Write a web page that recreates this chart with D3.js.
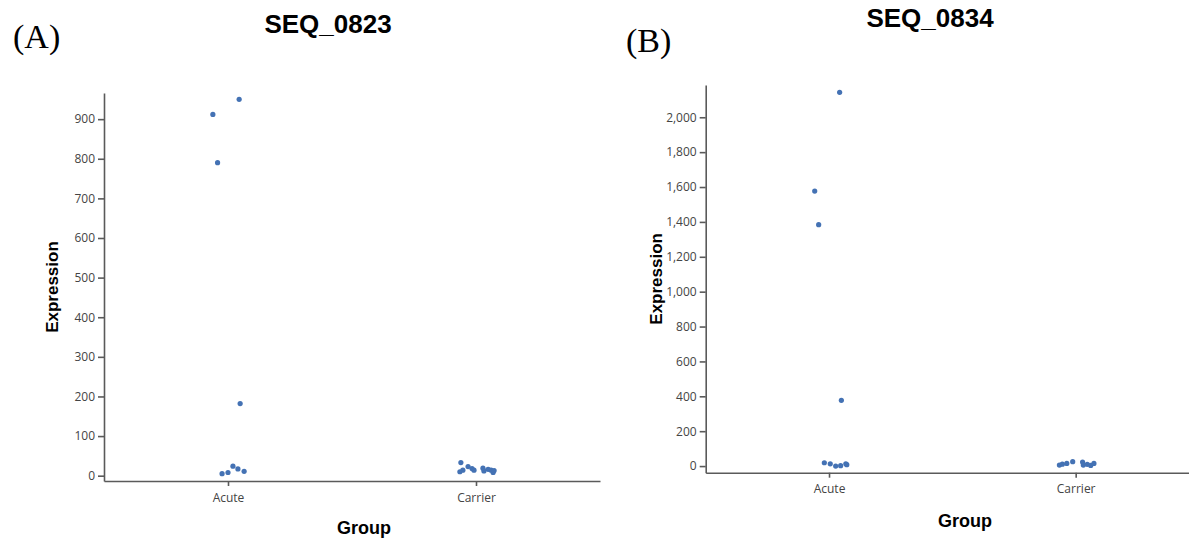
<!DOCTYPE html>
<meta charset="utf-8">
<script src="https://d3js.org/d3.v7.min.js"></script>
<style>
  body { margin: 0; background: #fff; }
  .tick text { font-family: "Open Sans", sans-serif; font-size: 12px; fill: #444; }
  .domain, .tick line { stroke: #5a5a5a; }
</style>
<div id="chart"></div>
<script>

// categories and labels
const groups = ["Acute", "Carrier"];
const titles = ["SEQ_0823", "SEQ_0834"];
const panelTags = ["(A)", "(B)"];

// y tick labels
const ticks0823 = [0, 100, 200, 300, 400, 500, 600, 700, 800, 900];
const ticks0834 = [0, 200, 400, 600, 800, 1000, 1200, 1400, 1600, 1800, 2000];

// expression values, jitter is an offset as a fraction of the category step
const seq0823Acute = [950, 912, 790, 182, 5, 8, 24, 17, 11];
const seq0823AcuteJitter = [0.045, -0.061, -0.042, 0.049, -0.024, 0, 0.02, 0.04, 0.065];
const seq0823Carrier = [33, 10, 14, 23, 18, 14, 19, 12, 16, 14, 8, 13];
const seq0823CarrierJitter = [-0.061, -0.065, -0.053, -0.032, -0.016, -0.008, 0.028, 0.032, 0.049, 0.061, 0.069, 0.073];

const seq0834Acute = [2143, 1577, 1384, 377, 19, 13, 0, 2, 13, 8];
const seq0834AcuteJitter = [0.043, -0.058, -0.042, 0.05, -0.019, 0.005, 0.027, 0.047, 0.068, 0.072];
const seq0834Carrier = [6, 11, 15, 25, 23, 6, 10, 4, 15];
const seq0834CarrierJitter = [-0.066, -0.054, -0.036, -0.012, 0.028, 0.031, 0.047, 0.061, 0.074];

const width = 1189, height = 540;
const dotColor = "#4472b4";

const svg = d3.select("#chart")
  .append("svg")
    .attr("width", width)
    .attr("height", height);

svg.append("rect").attr("width", width).attr("height", height).attr("fill", "#fff");

// panel layouts
const panels = [
  {
    title: titles[0], tag: panelTags[0], ticks: ticks0823, fmt: d3.format("d"),
    left: 104, right: 600, top: 93, bottom: 481, domain: [-13.4, 966],
    series: [[seq0823Acute, seq0823AcuteJitter], [seq0823Carrier, seq0823CarrierJitter]],
    titleX: 328, titleY: 33, tagX: 13, tagY: 48,
    ylabX: 58, groupX: 364, groupY: 534
  },
  {
    title: titles[1], tag: panelTags[1], ticks: ticks0834, fmt: d3.format(","),
    left: 705.7, right: 1199, top: 85, bottom: 472.7, domain: [-38, 2185],
    series: [[seq0834Acute, seq0834AcuteJitter], [seq0834Carrier, seq0834CarrierJitter]],
    titleX: 930, titleY: 27, tagX: 626, tagY: 52,
    ylabX: 662, groupX: 965, groupY: 527
  }
];

panels.forEach(p => {
  const g = svg.append("g");

  const x = d3.scalePoint()
    .domain(groups)
    .range([p.left, p.right])
    .padding(0.5);

  const y = d3.scaleLinear()
    .domain(p.domain)
    .range([p.bottom, p.top]);

  // axes
  g.append("g")
    .attr("transform", `translate(${p.left},0)`)
    .call(d3.axisLeft(y).tickValues(p.ticks).tickFormat(p.fmt).tickSize(6).tickSizeOuter(0).tickPadding(3))
    .call(a => a.selectAll(".domain, .tick line").attr("stroke-width", 1.6));

  g.append("g")
    .attr("transform", `translate(0,${p.bottom})`)
    .call(d3.axisBottom(x).tickSize(5).tickSizeOuter(0).tickPadding(7))
    .call(a => a.selectAll(".domain, .tick line").attr("stroke-width", 1.6));

  // points
  p.series.forEach(([vals, jit], gi) => {
    const pts = vals.map((v, i) => ({group: groups[gi], value: v, jitter: jit[i]}));
    g.append("g").selectAll("circle")
      .data(pts)
      .join("circle")
        .attr("cx", d => x(d.group) + d.jitter * x.step())
        .attr("cy", d => y(d.value))
        .attr("r", 2.6)
        .attr("fill", dotColor);
  });

  // titles and labels
  g.append("text")
    .attr("x", p.titleX).attr("y", p.titleY)
    .attr("text-anchor", "middle")
    .style("font-family", "Liberation Sans, Arial, sans-serif")
    .style("font-weight", "bold")
    .style("font-size", "26px")
    .text(p.title);

  g.append("text")
    .attr("x", p.tagX).attr("y", p.tagY)
    .style("font-family", "Liberation Serif, Times New Roman, serif")
    .style("font-size", "34px")
    .text(p.tag);

  g.append("text")
    .attr("transform", `translate(${p.ylabX},${(p.top + p.bottom) / 2}) rotate(-90)`)
    .attr("text-anchor", "middle")
    .style("font-family", "Liberation Sans, Arial, sans-serif")
    .style("font-weight", "bold")
    .style("font-size", "17px")
    .text("Expression");

  g.append("text")
    .attr("x", p.groupX).attr("y", p.groupY)
    .attr("text-anchor", "middle")
    .style("font-family", "Liberation Sans, Arial, sans-serif")
    .style("font-weight", "bold")
    .style("font-size", "18px")
    .text("Group");
});

</script>
